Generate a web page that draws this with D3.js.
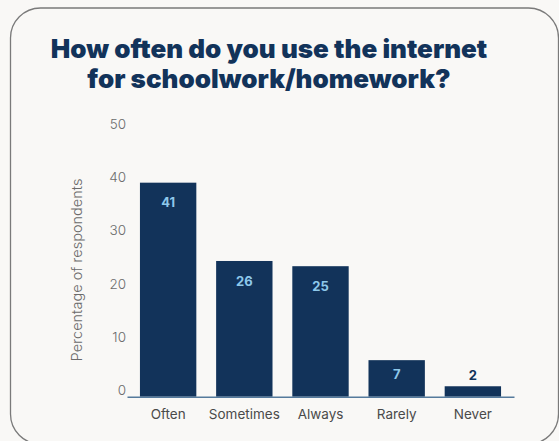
<!DOCTYPE html>
<html>
<head>
<meta charset="utf-8">
<script src="https://cdn.jsdelivr.net/npm/d3@7/dist/d3.min.js"></script>
<style>
  html, body { margin: 0; padding: 0; background: #f9f8f6; }
  svg { display: block; }
</style>
</head>
<body>
<script>
// Survey responses: share of respondents per frequency
const categories = ["Often", "Sometimes", "Always", "Rarely", "Never"];
const values = [41, 26, 25, 7, 2];
const yTicks = [0, 10, 20, 30, 40, 50];
const titleLines = ["How often do you use the internet", "for schoolwork/homework?"];
const yLabel = "Percentage of respondents";

const W = 559, H = 441;
const svg = d3.select("body").append("svg").attr("width", W).attr("height", H);

// card background
svg.append("rect")
  .attr("x", 10.5).attr("y", 8)
  .attr("width", 548).attr("height", 436)
  .attr("rx", 30).attr("ry", 30)
  .attr("fill", "#f9f8f6")
  .attr("stroke", "#7a7a7a").attr("stroke-width", 1.3);

// title
svg.append("text")
  .attr("x", 269).attr("y", 58)
  .attr("text-anchor", "middle")
  .style("font-family", "Inter, 'Open Sans', sans-serif")
  .style("font-weight", 900)
  .style("font-size", "26px")
  .attr("fill", "#12335a")
  .selectAll("tspan").data(titleLines).join("tspan")
  .attr("x", 269).attr("dy", (d, i) => i === 0 ? 0 : 30)
  .text(d => d);

const baseY = 396.7;
const x = d3.scaleBand().domain(categories).range([127, 514])
  .paddingInner(0.26).paddingOuter(0.17);
const y = d3.scaleLinear().domain([0, 50]).range([baseY, 135.7]);
// tick labels sit on their own slightly taller scale
const yTickPos = d3.scaleLinear().domain([0, 50]).range([390, 123.3]);

const font = "Inter, 'Open Sans', sans-serif";

// y axis (labels only)
const yAxis = svg.append("g")
  .attr("transform", "translate(126,0)")
  .call(d3.axisLeft(yTickPos).tickValues(yTicks).tickSize(0).tickPadding(0));
yAxis.select(".domain").remove();
yAxis.selectAll("text")
  .attr("dy", "0.35em")
  .style("font-family", font).style("font-weight", 300)
  .style("font-size", "13.5px").attr("fill", "#6b6b6b");

// y axis title
svg.append("text")
  .attr("transform", "translate(82,270) rotate(-90)")
  .attr("text-anchor", "middle")
  .style("font-family", font).style("font-weight", 300)
  .style("font-size", "14.5px").attr("fill", "#6b6b6b")
  .text(yLabel);

// bars
svg.append("g").selectAll("rect").data(values).join("rect")
  .attr("x", (d, i) => x(categories[i]))
  .attr("width", x.bandwidth())
  .attr("y", d => y(d))
  .attr("height", d => baseY - y(d))
  .attr("fill", "#12335a");

// x axis
const xAxis = svg.append("g")
  .attr("transform", `translate(0,${baseY})`)
  .call(d3.axisBottom(x).tickSize(0).tickPadding(13));
xAxis.select(".domain").attr("stroke", "#557a9c").attr("stroke-width", 1.5);
xAxis.selectAll("text")
  .attr("dy", "0.71em")
  .style("font-family", font).style("font-weight", 400)
  .style("font-size", "13.5px").attr("fill", "#4a4a4a");

// value labels: inside the bar when it is tall enough, above otherwise
svg.append("g").selectAll("text").data(values).join("text")
  .attr("x", (d, i) => x(categories[i]) + x.bandwidth() / 2)
  .attr("y", d => {
    const h = baseY - y(d);
    return h > 25 ? Math.min(y(d) + 20, baseY - 22) : y(d) - 11;
  })
  .attr("dy", "0.35em")
  .attr("text-anchor", "middle")
  .style("font-family", font).style("font-weight", 700)
  .style("font-size", "13px")
  .attr("fill", d => (baseY - y(d)) > 25 ? "#8ec8ea" : "#12335a")
  .text(d => d);
</script>
</body>
</html>
